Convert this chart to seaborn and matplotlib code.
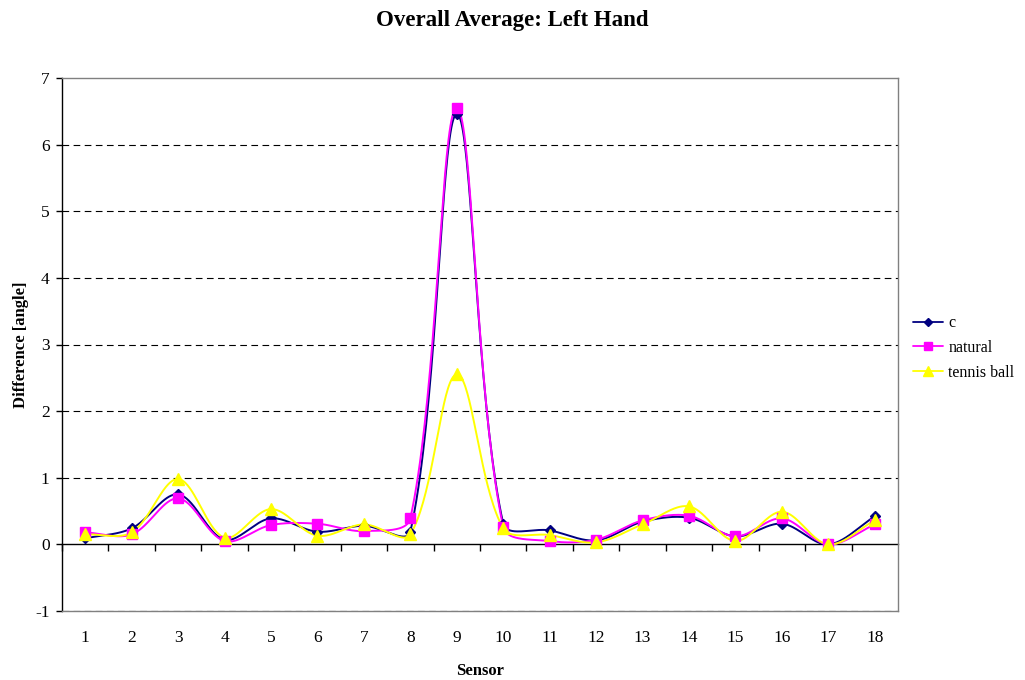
import numpy as np
import pandas as pd
import matplotlib
matplotlib.use("Agg")
import matplotlib.pyplot as plt
from matplotlib.lines import Line2D
import seaborn as sns

sensors = list(range(1, 19))
c_vals = [0.09, 0.24, 0.75, 0.07, 0.39, 0.19, 0.28, 0.19, 6.46,
          0.31, 0.21, 0.06, 0.34, 0.40, 0.12, 0.31, 0.00, 0.42]
natural_vals = [0.18, 0.15, 0.69, 0.05, 0.29, 0.31, 0.20, 0.39, 6.55,
                0.26, 0.05, 0.07, 0.36, 0.43, 0.12, 0.39, 0.00, 0.30]
tennis_vals = [0.15, 0.18, 0.98, 0.10, 0.53, 0.13, 0.30, 0.15, 2.55,
               0.24, 0.14, 0.03, 0.30, 0.57, 0.05, 0.49, 0.00, 0.36]

series_names = ["c", "natural", "tennis ball"]
series_vals = [c_vals, natural_vals, tennis_vals]
colors = {"c": "#000080", "natural": "#FF00FF", "tennis ball": "#FFFF00"}
markers = {"c": "D", "natural": "s", "tennis ball": "^"}
msizes = {"c": 5, "natural": 7, "tennis ball": 8}

# screen scale (pixels per data unit) used for chord-length smoothing
PX_X, PX_Y = 46.4, 66.6


def smooth(x, y, steps=40):
    """Chord-length weighted Bezier smoothing through every point."""
    x = np.asarray(x, float)
    y = np.asarray(y, float)
    pts = np.column_stack([x, y])
    scr = np.column_stack([x * PX_X, y * PX_Y])
    n = len(pts)
    d = np.hypot(*np.diff(scr, axis=0).T)
    t = np.linspace(0, 1, steps)
    out = []
    for i in range(n - 1):
        p0, p3 = pts[i], pts[i + 1]
        if i == 0:
            c1 = p0 + (p3 - p0) / 3
        else:
            tan = pts[i + 1] - pts[i - 1]
            c1 = p0 + tan * d[i] / (d[i - 1] + d[i]) / 3
        if i == n - 2:
            c2 = p3 - (p3 - p0) / 3
        else:
            tan = pts[i + 2] - pts[i]
            c2 = p3 - tan * d[i] / (d[i] + d[i + 1]) / 3
        b = ((1 - t) ** 3)[:, None] * p0 + (3 * (1 - t) ** 2 * t)[:, None] * c1 \
            + (3 * (1 - t) * t ** 2)[:, None] * c2 + (t ** 3)[:, None] * p3
        out.append(b)
    b = np.vstack(out)
    return b[:, 0], b[:, 1]


sns.set_theme(style="white")
plt.rcParams["font.family"] = ["Liberation Serif", "DejaVu Serif"]
plt.rcParams["text.color"] = "black"
plt.rcParams["axes.labelcolor"] = "black"
plt.rcParams["xtick.color"] = "black"
plt.rcParams["ytick.color"] = "black"

fig = plt.figure(figsize=(10.25, 6.8), dpi=100)
ax = fig.add_axes([62 / 1025, 1 - 611 / 680, (898 - 62) / 1025, (611 - 78) / 680])

# smoothed curves
for i, (name, vals) in enumerate(zip(series_names, series_vals)):
    sx, sy = smooth(sensors, vals)
    curve = pd.DataFrame({"x": sx, "y": sy})
    sns.lineplot(data=curve, x="x", y="y", sort=False, color=colors[name],
                 lw=1.4, ax=ax, zorder=3 + i)

# markers on the data points
for i, (name, vals) in enumerate(zip(series_names, series_vals)):
    ax.plot(sensors, vals, ls="none", marker=markers[name],
            ms=msizes[name], color=colors[name], mec=colors[name], zorder=10 + i)

ax.set_xlim(0.5, 18.5)
ax.set_ylim(-1, 7)
ax.set_yticks(range(-1, 8))
ax.set_yticklabels([str(v) for v in range(-1, 8)], fontsize=12.5)
ax.set_xticks(sensors)
ax.set_xticklabels([str(s) for s in sensors], fontsize=12.5)
ax.tick_params(axis="x", length=0, pad=14)
ax.tick_params(axis="y", direction="out", length=4, width=1, color="black", pad=5, left=True)

for v in range(-1, 7):
    if v != 0:
        ax.axhline(v, color="black", lw=0.8, ls=(0, (6, 4)), zorder=1)

for side in ["top", "right", "bottom"]:
    ax.spines[side].set_color("#808080")
    ax.spines[side].set_linewidth(1)
ax.spines["left"].set_color("black")
ax.spines["left"].set_linewidth(1)

# category axis crossing at zero
sec = ax.secondary_xaxis(1 / 8)
sec.set_xticks(np.arange(0.5, 18.4, 1))
sec.set_xticklabels([])
sec.tick_params(direction="out", length=5, width=1, color="black")
sec.spines["bottom"].set_color("black")
sec.spines["bottom"].set_linewidth(1)

ax.set_xlabel("Sensor", fontsize=12, fontweight="bold", labelpad=12)
ax.set_ylabel("Difference [angle]", fontsize=12, fontweight="bold", labelpad=4)
fig.suptitle("Overall Average: Left Hand", fontsize=16.5, fontweight="bold", y=0.985)

handles = [Line2D([0], [0], color=colors[n], marker=markers[n], ms=msizes[n] - 1,
                  lw=1.3) for n in series_names]
fig.legend(handles, series_names, loc="center left",
           bbox_to_anchor=(913 / 1025, 1 - 348 / 680),
           frameon=False, fontsize=11.5, handlelength=1.9, handletextpad=0.3,
           labelspacing=0.55, borderpad=0, borderaxespad=0)

fig.savefig("out.png", dpi=100)
